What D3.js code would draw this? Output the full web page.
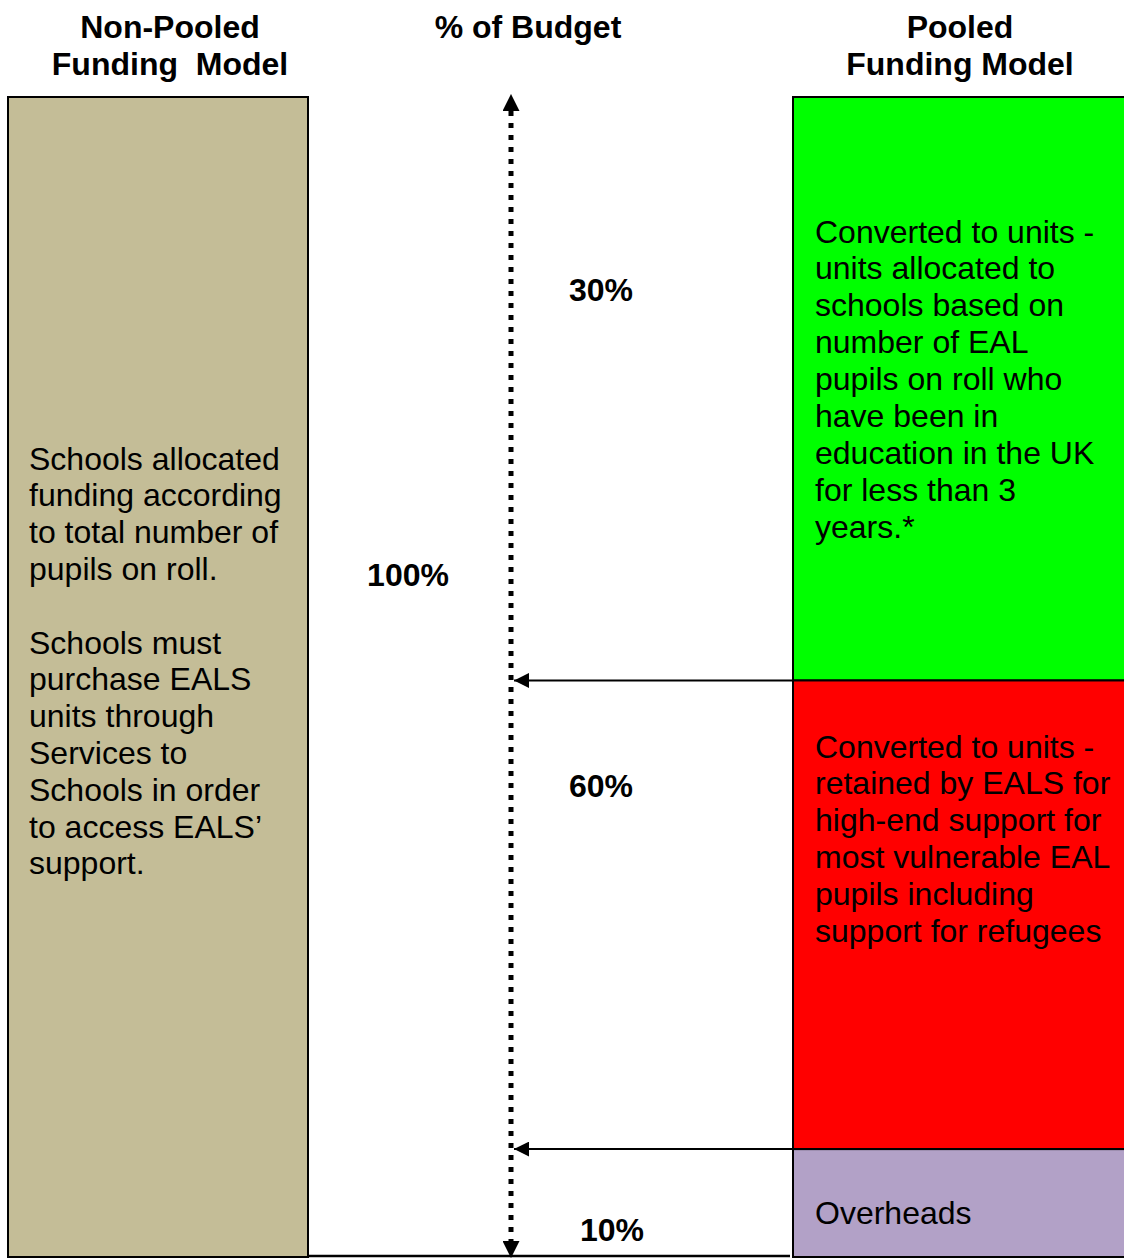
<!DOCTYPE html>
<html><head><meta charset="utf-8">
<script src="https://cdn.jsdelivr.net/npm/d3@7"></script>
<style>html,body{margin:0;padding:0;background:#fff;}svg{display:block;}</style>
</head><body>
<svg id="c" width="1124" height="1258"></svg>
<script>
// ---- data ----
const headers = [
  {key:"left", lines:["Non-Pooled","Funding  Model"]},
  {key:"mid", lines:["% of Budget"]},
  {key:"right", lines:["Pooled","Funding Model"]}
];
const segmentNames = ["units","retained","overheads"];
const segmentShare = [50.3, 40.4, 9.3];          // drawn height (% of column)
const segmentLabels = ["30%", "60%", "10%"];      // printed labels
const segmentColors = ["#00ff00", "#ff0000", "#b2a1c7"];
const segmentTexts = [
  ["Converted to units -","units allocated to","schools based on","number of EAL","pupils on roll who","have been in","education in the UK","for less than 3","years.*"],
  ["Converted to units -","retained by EALS for","high-end support for","most vulnerable EAL","pupils including","support for refugees"],
  ["Overheads"]
];
const totalLabel = "100%";
const leftText = ["Schools allocated","funding according","to total number of","pupils on roll.","","Schools must","purchase EALS","units through","Services to","Schools in order","to access EALS’","support."];

(function(){
// ---- layout ----
const svg = d3.select("#c");
const font = "'Liberation Sans', Arial, sans-serif";
const fs = 32, off = 11.5;
const yTop = 97, yBottom = 1257;
const y = d3.scaleLinear().domain([0, 100]).range([yTop, yBottom]);
const x = d3.scaleOrdinal().domain(["left","mid","right"]).range([170, 528, 960]);
const leftBox = {x0: 8, x1: 308};
const rightBox = {x0: 793, x1: 1126};
const axisX = 511;

const defs = svg.append("defs");
defs.append("marker").attr("id","ah").attr("viewBox","0 0 10 10").attr("refX",10).attr("refY",5)
    .attr("markerWidth",15).attr("markerHeight",15).attr("markerUnits","userSpaceOnUse").attr("orient","auto")
    .append("path").attr("d","M0,0L10,5L0,10Z").attr("fill","#000");
defs.append("marker").attr("id","ah2").attr("viewBox","0 0 10 10").attr("refX",10).attr("refY",5)
    .attr("markerWidth",17).attr("markerHeight",17).attr("markerUnits","userSpaceOnUse").attr("orient","auto")
    .append("path").attr("d","M0,0L10,5L0,10Z").attr("fill","#000");

// headers
const hg = svg.append("g").attr("font-family", font).attr("font-weight","bold").attr("font-size", fs).attr("text-anchor","middle").attr("fill","#000");
headers.forEach(h => {
  h.lines.forEach((l,i) => {
    hg.append("text").attr("x", x(h.key)).attr("y", 26 + off + i*37).style("white-space","pre").text(l);
  });
});

// left box
svg.append("rect").attr("x", leftBox.x0).attr("y", y(0)).attr("width", leftBox.x1-leftBox.x0).attr("height", y(100)-y(0))
  .attr("fill","#c4bd97").attr("stroke","#000").attr("stroke-width",2);
const lt = svg.append("g").attr("font-family", font).attr("font-size", fs).attr("fill","#000");
leftText.forEach((l,i) => lt.append("text").attr("x", 29).attr("y", 458 + off + i*36.8).text(l));

// bottom baseline line
svg.append("line").attr("x1", leftBox.x1).attr("x2", rightBox.x0-3).attr("y1", y(100)-1).attr("y2", y(100)-1)
  .attr("stroke","#000").attr("stroke-width",2.5);

// right stacked segments
const starts = Array.from(d3.cumsum([0, ...segmentShare])).slice(0, segmentShare.length);
const segs = segmentNames.map((n,i) => ({name:n, start: starts[i], end: starts[i]+segmentShare[i], color: segmentColors[i], label: segmentLabels[i], text: segmentTexts[i]}));
svg.append("g").selectAll("rect").data(segs).join("rect")
  .attr("x", rightBox.x0).attr("y", d => y(d.start)).attr("width", rightBox.x1-rightBox.x0).attr("height", d => y(d.end)-y(d.start))
  .attr("fill", d => d.color).attr("stroke","#000").attr("stroke-width",2);

// segment texts
const textTop = [231, 746, 1212];
const st = svg.append("g").attr("font-family", font).attr("font-size", fs).attr("fill","#000");
segs.forEach((s,i) => {
  s.text.forEach((l,j) => st.append("text").attr("x", 815).attr("y", textTop[i] + off + j*36.9).text(l));
});

// dotted vertical double arrow
svg.append("line").attr("x1", axisX).attr("x2", axisX).attr("y1", y(0)+14).attr("y2", y(100)-14)
  .attr("stroke","#000").attr("stroke-width",5).attr("stroke-dasharray","5 7");
svg.append("line").attr("x1", axisX).attr("x2", axisX).attr("y1", y(0)+16).attr("y2", y(0)-3)
  .attr("stroke","#000").attr("stroke-width",0.1).attr("marker-end","url(#ah2)");
svg.append("line").attr("x1", axisX).attr("x2", axisX).attr("y1", y(100)-16).attr("y2", y(100)+1)
  .attr("stroke","#000").attr("stroke-width",0.1).attr("marker-end","url(#ah2)");

// boundary arrows
segs.slice(0, -1).forEach(s => {
  svg.append("line").attr("x1", rightBox.x0).attr("x2", axisX+3).attr("y1", y(s.end)).attr("y2", y(s.end))
    .attr("stroke","#000").attr("stroke-width",2).attr("marker-end","url(#ah)");
});

// percent labels
const pl = svg.append("g").attr("font-family", font).attr("font-weight","bold").attr("font-size", fs).attr("text-anchor","middle").attr("fill","#000");
const labelPos = [{x:601, y:289},{x:601, y:785},{x:612, y:1229}];
segs.forEach((s,i) => pl.append("text").attr("x", labelPos[i].x).attr("y", labelPos[i].y + off).text(s.label));
pl.append("text").attr("x", 408).attr("y", 574 + off).text(totalLabel);
})();
</script>
</body></html>
